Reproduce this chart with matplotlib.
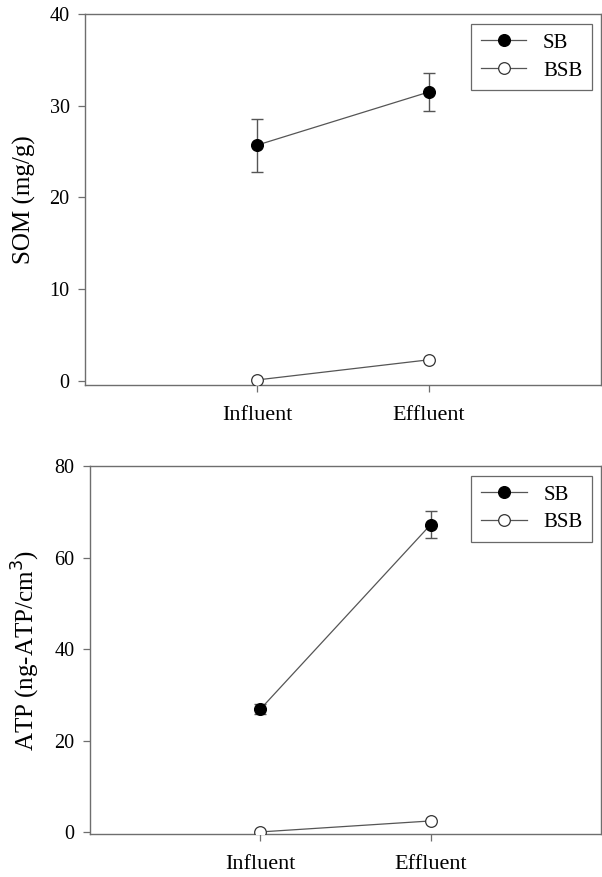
#!/usr/bin/env python3
"""
Two-panel line chart: SOM and ATP for SB and BSB columns, influent vs effluent.
"""

import matplotlib.pyplot as plt

plt.rcParams["font.family"] = ["Liberation Serif", "DejaVu Serif"]

CATEGORIES = ["Influent", "Effluent"]
POSITIONS = [1, 2]

SOM_SB = [25.7, 31.5]
SOM_SB_ERR = [2.9, 2.1]
SOM_BSB = [0.1, 2.3]

ATP_SB = [26.9, 67.2]
ATP_SB_ERR = [1.1, 3.0]
ATP_BSB = [0.1, 2.5]

LINE_COLOR = "#555555"
SPINE_COLOR = "#6e6e6e"


def draw_panel(ax, sb, sb_err, bsb, ylim, yticks, ylabel, labelpad):
    # error bars drawn separately so the legend handle stays a plain line+marker
    ax.errorbar(POSITIONS, sb, yerr=sb_err, fmt="none", ecolor=LINE_COLOR,
                elinewidth=1.0, capsize=4, capthick=1.0, zorder=2)
    ax.plot(POSITIONS, sb, color=LINE_COLOR, lw=0.9, marker="o", ms=8.4,
            mfc="black", mec="black", label="SB", zorder=3)
    ax.plot(POSITIONS, bsb, color=LINE_COLOR, lw=0.9, marker="o", ms=8.4,
            mfc="white", mec="#333333", mew=0.9, label="BSB", zorder=3)

    ax.set_xlim(0, 3)
    ax.set_ylim(*ylim)
    ax.set_xticks(POSITIONS)
    ax.set_xticklabels(CATEGORIES, fontsize=16)
    ax.set_yticks(yticks)
    ax.tick_params(axis="y", labelsize=14.5, direction="out", length=5,
                   width=0.9, color=SPINE_COLOR, pad=6)
    ax.tick_params(axis="x", direction="out", length=5, width=0.9,
                   color=SPINE_COLOR, pad=10)
    ax.set_ylabel(ylabel, fontsize=18, labelpad=labelpad)
    for s in ax.spines.values():
        s.set_color(SPINE_COLOR)
        s.set_linewidth(1.0)

    leg = ax.legend(loc="upper right", bbox_to_anchor=(0.982, 0.974),
                    fontsize=15, frameon=True, fancybox=False,
                    handlelength=2.2, borderpad=0.45, labelspacing=0.4,
                    handletextpad=0.8, borderaxespad=0)
    leg.get_frame().set_edgecolor("#444444")
    leg.get_frame().set_linewidth(0.9)


def main():
    fig = plt.figure(figsize=(6.02, 8.77), dpi=100)
    W, H = 602, 877
    ax1 = fig.add_axes([85 / W, 1 - 385 / H, 516 / W, 371 / H])
    ax2 = fig.add_axes([90 / W, 1 - 834 / H, 511 / W, 368 / H])

    draw_panel(ax1, SOM_SB, SOM_SB_ERR, SOM_BSB, (-0.45, 40),
               [0, 10, 20, 30, 40], "SOM (mg/g)", 10)
    draw_panel(ax2, ATP_SB, ATP_SB_ERR, ATP_BSB, (-0.35, 80),
               [0, 20, 40, 60, 80], r"ATP (ng-ATP/cm$^{3}$)", 9)

    fig.savefig("out.png", dpi=100, facecolor="white")


if __name__ == "__main__":
    main()
